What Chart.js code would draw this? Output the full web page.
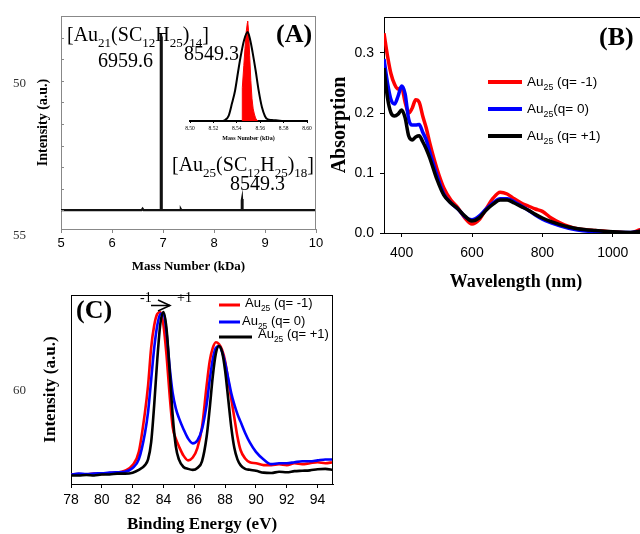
<!DOCTYPE html>
<html>
<head>
<meta charset="utf-8">
<script src="https://cdn.jsdelivr.net/npm/chart.js@4"></script>
<style>
  body { margin: 0; width: 640px; height: 534px; overflow: hidden; position: relative; background: #fff; }
  canvas { position: absolute; }
</style>
</head>
<body>
<canvas id="massChart" width="330" height="280" style="left:0;top:0"></canvas>
<canvas id="insetChart" width="145" height="135" style="left:175px;top:15px"></canvas>
<canvas id="uvChart" width="320" height="300" style="left:330px;top:0"></canvas>
<canvas id="xpsChart" width="340" height="260" style="left:0;top:280px"></canvas>
<script>
Chart.defaults.font.family = "Liberation Sans";
Chart.defaults.color = "#000";
Chart.defaults.animation = false;
Chart.defaults.events = [];
Chart.defaults.plugins.legend.display = false;
Chart.defaults.plugins.tooltip.enabled = false;
Chart.defaults.elements.point.radius = 0;

const SERIF = "Liberation Serif";

// (A) MALDI mass spectrum, intensity normalised to the Au21 peak
const massKDa = [5.0, 6.58, 6.60, 6.62, 6.945, 6.955, 6.9596, 6.965, 6.975, 7.34, 7.35, 7.36, 8.535, 8.545, 8.5493, 8.555, 8.565, 10.0];
const massIntensity = [0, 0, 0.8, 0, 0, 98, 100, 98, 0, 0, 0.5, 0, 0, 5.5, 6.2, 5.5, 0, 0];
const massTicks = [5, 6, 7, 8, 9, 10];
const massMinorStep = 12.15;

// inset: measured Au25 envelope and simulated isotope pattern
const insetMass = [8.500, 8.526, 8.530, 8.533, 8.536, 8.5385, 8.541, 8.543, 8.5462, 8.5493, 8.5515, 8.5535, 8.5561, 8.5587, 8.5615, 8.564, 8.566, 8.570, 8.575, 8.580, 8.600];
const insetProfile = [0, 0, 0.01, 0.05, 0.18, 0.30, 0.48, 0.62, 0.80, 0.88, 0.80, 0.68, 0.50, 0.30, 0.135, 0.05, 0.02, 0.01, 0.005, 0, 0];
const isoMass = [8.5445, 8.5447, 8.546, 8.547, 8.548, 8.549, 8.5493, 8.550, 8.551, 8.552, 8.553, 8.554, 8.555, 8.556, 8.557, 8.558];
const isoIntensity = [0, 0.33, 0.55, 0.72, 0.88, 0.97, 0.99, 0.90, 0.65, 0.40, 0.22, 0.12, 0.07, 0.03, 0.01, 0];
const insetTicks = [8.50, 8.52, 8.54, 8.56, 8.58, 8.60];

// (B) UV-vis absorption
const wavelength = [350, 360, 370, 380, 390, 400, 410, 420, 430, 440, 450, 460, 470, 480, 500, 520, 540, 560, 580, 600, 620, 640, 660, 680, 700, 720, 740, 760, 780, 800, 825, 850, 875, 900, 950, 1000, 1050, 1070, 1080, 1100];
const absMinus = [0.333, 0.295, 0.265, 0.248, 0.240, 0.242, 0.218, 0.200, 0.208, 0.222, 0.218, 0.195, 0.175, 0.150, 0.108, 0.075, 0.055, 0.042, 0.025, 0.015, 0.022, 0.040, 0.058, 0.068, 0.065, 0.057, 0.050, 0.045, 0.040, 0.036, 0.025, 0.017, 0.011, 0.007, 0.004, 0.002, 0.000, 0.004, 0.006, 0.005];
const absNeutral = [0.290, 0.250, 0.222, 0.215, 0.228, 0.245, 0.232, 0.190, 0.180, 0.180, 0.181, 0.168, 0.155, 0.135, 0.097, 0.065, 0.050, 0.040, 0.027, 0.022, 0.028, 0.040, 0.050, 0.057, 0.057, 0.052, 0.045, 0.038, 0.030, 0.023, 0.017, 0.012, 0.008, 0.005, 0.002, 0.001, 0.001, 0.002, 0.003, 0.003];
const absPlus = [0.275, 0.225, 0.200, 0.195, 0.198, 0.205, 0.192, 0.162, 0.155, 0.160, 0.162, 0.152, 0.140, 0.125, 0.090, 0.063, 0.050, 0.040, 0.028, 0.020, 0.025, 0.038, 0.048, 0.055, 0.055, 0.050, 0.044, 0.038, 0.031, 0.025, 0.019, 0.014, 0.010, 0.007, 0.004, 0.002, 0.001, 0.002, 0.003, 0.003];
const uvTicksX = [400, 600, 800, 1000];
const uvTicksY = [0, 0.1, 0.2, 0.3];

// (C) Au 4f XPS, normalised
const bindingEnergy = [78, 78.5, 79, 79.5, 80, 80.5, 81, 81.5, 82, 82.4, 82.8, 83.0, 83.2, 83.4, 83.6, 83.8, 84.0, 84.2, 84.4, 84.6, 84.8, 85.0, 85.3, 85.6, 85.9, 86.2, 86.5, 86.8, 87.0, 87.2, 87.4, 87.6, 87.8, 88.0, 88.2, 88.4, 88.6, 88.8, 89.0, 89.3, 89.6, 90.0, 90.5, 91, 91.5, 92, 92.5, 93, 93.5, 94, 94.5, 95];
const xpsMinus = [0.050, 0.052, 0.050, 0.055, 0.053, 0.058, 0.060, 0.070, 0.100, 0.170, 0.380, 0.520, 0.720, 0.840, 0.900, 0.910, 0.840, 0.680, 0.470, 0.300, 0.240, 0.200, 0.150, 0.125, 0.140, 0.190, 0.300, 0.520, 0.650, 0.720, 0.750, 0.740, 0.710, 0.650, 0.550, 0.450, 0.350, 0.250, 0.180, 0.135, 0.115, 0.110, 0.100, 0.100, 0.105, 0.100, 0.110, 0.105, 0.110, 0.115, 0.110, 0.115];
const xpsNeutral = [0.050, 0.055, 0.052, 0.055, 0.057, 0.060, 0.062, 0.065, 0.085, 0.130, 0.270, 0.380, 0.550, 0.720, 0.840, 0.900, 0.900, 0.800, 0.620, 0.480, 0.400, 0.350, 0.290, 0.240, 0.215, 0.230, 0.290, 0.420, 0.550, 0.660, 0.720, 0.730, 0.700, 0.640, 0.560, 0.480, 0.420, 0.370, 0.330, 0.270, 0.220, 0.170, 0.130, 0.105, 0.110, 0.110, 0.115, 0.120, 0.120, 0.125, 0.130, 0.130];
const xpsPlus = [0.045, 0.045, 0.048, 0.045, 0.050, 0.050, 0.055, 0.055, 0.060, 0.075, 0.100, 0.130, 0.220, 0.420, 0.660, 0.850, 0.910, 0.820, 0.600, 0.360, 0.200, 0.130, 0.090, 0.080, 0.075, 0.085, 0.120, 0.250, 0.400, 0.570, 0.690, 0.730, 0.700, 0.600, 0.450, 0.300, 0.190, 0.130, 0.100, 0.080, 0.075, 0.070, 0.060, 0.058, 0.065, 0.062, 0.068, 0.070, 0.072, 0.078, 0.080, 0.075];
const xpsTicks = [78, 80, 82, 84, 86, 88, 90, 92, 94];

const seriesColors = ["#ff0000", "#0000ff", "#000000"];
const uvNames = ["Au_{25} (q= -1)", "Au_{25}(q= 0)", "Au_{25} (q= +1)"];
const xpsNames = ["Au_{25} (q= -1)", "Au_{25} (q= 0)", "Au_{25} (q= +1)"];

const xy = (xs, ys) => xs.map((x, i) => ({ x, y: ys[i] }));
const fixedTicks = (list) => (s) => { s.ticks = list.map((v) => ({ value: v })); };
const plain = (v) => String(v);

// "Au_{25}" -> [["Au", false], ["25", true]]
function richParts(str) {
  return str.split(/_\{([^}]*)\}/).map((t, i) => [t, i % 2 === 1]);
}

function drawRich(ctx, x, y, str, size, family, weight = "normal") {
  let cx = x;
  for (const [t, sub] of richParts(str)) {
    if (!t) continue;
    const s = sub ? size * 0.65 : size;
    ctx.font = `${weight} ${s}px "${family}"`;
    ctx.fillText(t, cx, sub ? y + size * 0.28 : y);
    cx += ctx.measureText(t).width;
  }
}

function line(ctx, x1, y1, x2, y2) {
  ctx.beginPath();
  ctx.moveTo(x1, y1);
  ctx.lineTo(x2, y2);
  ctx.stroke();
}

// labels, legends and frame lines drawn after the chart itself
function overlay(id, draw) {
  return {
    id,
    afterDraw(chart) {
      const ctx = chart.ctx;
      ctx.save();
      ctx.fillStyle = "#000";
      ctx.textBaseline = "alphabetic";
      draw(ctx, chart);
      ctx.restore();
    },
  };
}

function serifTitle(text, size, padding) {
  return { display: true, text, font: { family: SERIF, size, weight: "bold" }, padding };
}

// ---------- (A) ----------
new Chart(document.getElementById("massChart"), {
  type: "line",
  data: { datasets: [{ data: xy(massKDa, massIntensity), borderColor: "#111", borderWidth: 2.2, tension: 0 }] },
  options: {
    responsive: false,
    layout: { padding: { top: 16, right: 14, left: 0, bottom: 0 }, autoPadding: false },
    scales: {
      x: {
        type: "linear", min: 5, max: 10,
        afterBuildTicks: fixedTicks(massTicks),
        afterFit: (s) => { s.height = 51; },
        border: { color: "#888" },
        grid: { drawOnChartArea: false, color: "#888", tickLength: 4 },
        ticks: { font: { size: 13 }, padding: 3, callback: plain },
        title: serifTitle("Mass Number (kDa)", 13, { bottom: 6 }),
      },
      y: {
        min: -10.7, max: 109.6,
        afterBuildTicks: fixedTicks([0, 1, 2, 3, 4, 5, 6, 7, 8].map((k) => k * massMinorStep)),
        afterFit: (s) => { s.width = 61; },
        border: { color: "#888" },
        grid: { display: false },
        ticks: { display: false },
        title: serifTitle("Intensity (a.u.)", 14, { top: 35 }),
      },
    },
  },
  plugins: [overlay("massNotes", (ctx, chart) => {
    const a = chart.chartArea;
    const ys = chart.scales.y;
    ctx.strokeStyle = "#888";
    ctx.lineWidth = 1;
    line(ctx, a.left, a.top + 0.5, a.right, a.top + 0.5);
    line(ctx, a.right - 0.5, a.top, a.right - 0.5, a.bottom);
    ys.ticks.forEach((t) => {
      const py = Math.round(ys.getPixelForValue(t.value)) + 0.5;
      line(ctx, a.left, py, a.left + 3, py);
    });

    drawRich(ctx, 67, 41, "[Au_{21}(SC_{12}H_{25})_{14}]", 20, SERIF);
    drawRich(ctx, 98, 67, "6959.6", 20, SERIF);
    drawRich(ctx, 184, 60, "8549.3", 20, SERIF);
    drawRich(ctx, 172, 171, "[Au_{25}(SC_{12}H_{25})_{18}]", 20, SERIF);
    drawRich(ctx, 230, 190, "8549.3", 20, SERIF);
    drawRich(ctx, 276, 42, "(A)", 26, SERIF, "bold");

    ctx.fillStyle = "#333";
    drawRich(ctx, 13, 87, "50", 13, SERIF);
    drawRich(ctx, 13, 239, "55", 13, SERIF);
  })],
});

// inset of (A)
new Chart(document.getElementById("insetChart"), {
  type: "line",
  data: {
    datasets: [
      { data: xy(insetMass, insetProfile), borderColor: "#000", borderWidth: 2, cubicInterpolationMode: "monotone" },
      { data: xy(isoMass, isoIntensity), borderColor: "#ff0000", borderWidth: 1, backgroundColor: "#ff0000", fill: "origin", tension: 0 },
    ],
  },
  options: {
    responsive: false,
    layout: { padding: { top: 5, right: 13, left: 15, bottom: 0 }, autoPadding: false },
    scales: {
      x: {
        type: "linear", min: 8.5, max: 8.6,
        afterBuildTicks: fixedTicks(insetTicks),
        afterFit: (s) => { s.height = 29; },
        border: { color: "#000", width: 2 },
        grid: { drawOnChartArea: false, color: "#000", tickLength: 2 },
        ticks: { font: { family: SERIF, size: 5.5 }, padding: 2, callback: (v) => v.toFixed(2) },
        title: serifTitle("Mass Number (kDa)", 6, { bottom: 8 }),
      },
      y: { min: 0, max: 1, display: false },
    },
  },
});

// ---------- (B) ----------
const uvSeries = [absMinus, absNeutral, absPlus];
new Chart(document.getElementById("uvChart"), {
  type: "line",
  data: {
    datasets: uvSeries.map((ys, i) => ({
      data: xy(wavelength, ys), borderColor: seriesColors[i], borderWidth: 3.5,
      cubicInterpolationMode: "monotone", order: 3 - i,
    })),
  },
  options: {
    responsive: false,
    layout: { padding: { top: 17, right: 2, left: 0, bottom: 0 }, autoPadding: false },
    scales: {
      x: {
        type: "linear", min: 350, max: 1100,
        afterBuildTicks: fixedTicks(uvTicksX),
        afterFit: (s) => { s.height = 67; },
        border: { color: "#000" },
        grid: { drawOnChartArea: false, color: "#000", tickLength: 4 },
        ticks: { font: { size: 14 }, padding: 8, callback: plain },
        title: serifTitle("Wavelength (nm)", 18, { bottom: 7 }),
      },
      y: {
        min: 0, max: 0.36,
        afterBuildTicks: fixedTicks(uvTicksY),
        afterFit: (s) => { s.width = 54; },
        border: { color: "#000" },
        grid: { drawOnChartArea: false, color: "#000", tickLength: 4 },
        ticks: { font: { size: 14 }, padding: 6, callback: (v) => v.toFixed(1) },
        title: { display: true, text: "Absorption", font: { family: SERIF, size: 20, weight: "bold", lineHeight: 1 }, padding: { top: 0 } },
      },
    },
  },
  plugins: [overlay("uvNotes", (ctx, chart) => {
    const a = chart.chartArea;
    ctx.strokeStyle = "#000";
    ctx.lineWidth = 1;
    line(ctx, a.left, a.top + 0.5, a.right, a.top + 0.5);

    [82, 109, 136].forEach((ly, i) => {
      ctx.strokeStyle = seriesColors[i];
      ctx.lineWidth = 4;
      line(ctx, 158, ly, 192, ly);
      drawRich(ctx, 197, ly + 4, uvNames[i], 13.5, "Liberation Sans");
    });
    drawRich(ctx, 269, 45, "(B)", 26, SERIF, "bold");
  })],
});

// ---------- (C) ----------
const xpsSeries = [xpsMinus, xpsNeutral, xpsPlus];
new Chart(document.getElementById("xpsChart"), {
  type: "line",
  data: {
    datasets: xpsSeries.map((ys, i) => ({
      data: xy(bindingEnergy, ys), borderColor: seriesColors[i], borderWidth: 2.6,
      cubicInterpolationMode: "monotone", order: 3 - i,
    })),
  },
  options: {
    responsive: false,
    layout: { padding: { top: 15, right: 7, left: 0, bottom: 0 }, autoPadding: false },
    scales: {
      x: {
        type: "linear", min: 78, max: 95,
        afterBuildTicks: fixedTicks(xpsTicks),
        afterFit: (s) => { s.height = 56; },
        border: { color: "#000" },
        grid: { drawOnChartArea: false, color: "#000", tickLength: 4 },
        ticks: { font: { size: 14 }, padding: 4, callback: plain },
        title: serifTitle("Binding Energy (eV)", 17, { bottom: 5 }),
      },
      y: {
        min: 0, max: 1,
        afterFit: (s) => { s.width = 71; },
        border: { color: "#000" },
        grid: { display: false },
        ticks: { display: false },
        title: serifTitle("Intensity (a.u.)", 17, { top: 40 }),
      },
    },
  },
  plugins: [overlay("xpsNotes", (ctx, chart) => {
    const a = chart.chartArea;
    ctx.strokeStyle = "#000";
    ctx.lineWidth = 1;
    line(ctx, a.left, a.top + 0.5, a.right, a.top + 0.5);
    line(ctx, a.right - 0.5, a.top, a.right - 0.5, a.bottom);

    drawRich(ctx, 76, 38, "(C)", 26, SERIF, "bold");

    // charge-state shift arrow
    drawRich(ctx, 140, 22, "-1", 14, SERIF);
    drawRich(ctx, 177, 22, "+1", 14, SERIF);
    ctx.lineWidth = 1.5;
    line(ctx, 151, 25.5, 170, 25.5);
    ctx.beginPath();
    ctx.moveTo(158, 20);
    ctx.lineTo(170, 25.5);
    ctx.lineTo(158, 31);
    ctx.stroke();

    const rows = [[25, 27, 219, 240, 245], [42, 45, 219, 240, 242], [57, 58, 219, 252, 258]];
    rows.forEach(([ly, by, x1, x2, tx], i) => {
      ctx.strokeStyle = seriesColors[i];
      ctx.lineWidth = 3;
      line(ctx, x1, ly, x2, ly);
      drawRich(ctx, tx, by, xpsNames[i], 13, "Liberation Sans");
    });

    ctx.fillStyle = "#333";
    drawRich(ctx, 13, 114, "60", 13, SERIF);
  })],
});
</script>
</body>
</html>
